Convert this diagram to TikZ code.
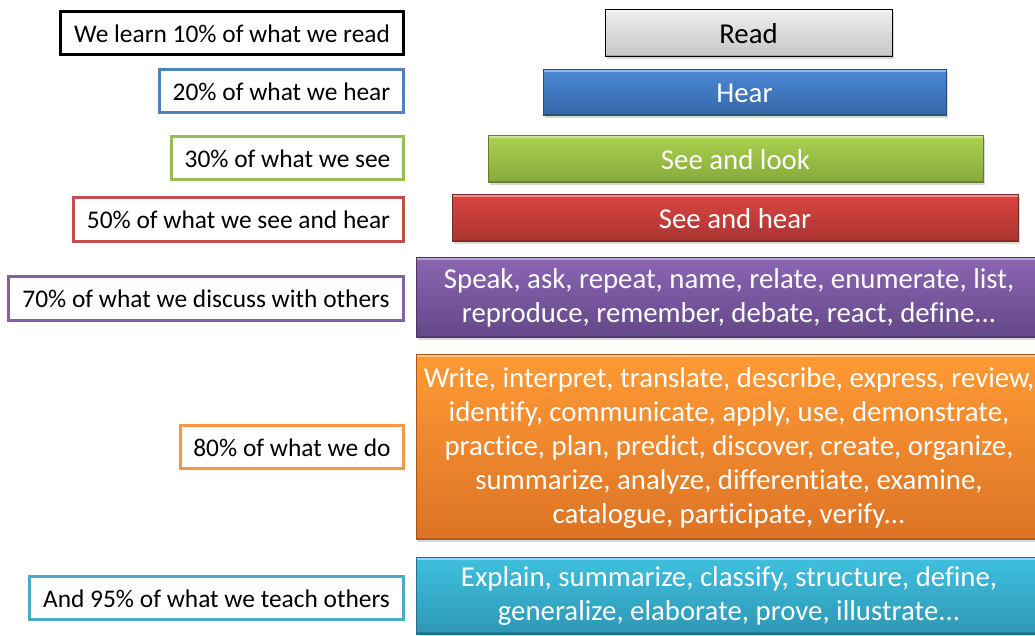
\documentclass[tikz,border=0pt]{standalone}
\usepackage{fontspec}
\setmainfont{Carlito}[Ligatures=NoCommon]
\usepackage{xcolor}
\definecolor{lrnBlue}{HTML}{4F81BD}
\definecolor{lrnGreen}{HTML}{9BBB59}
\definecolor{lrnRed}{HTML}{C0504D}
\definecolor{lrnPurple}{HTML}{8064A2}
\definecolor{lrnOrange}{HTML}{F79646}
\definecolor{lrnCyan}{HTML}{4BACC6}
% bar shades, top and bottom
\definecolor{readTop}{HTML}{EEEEEE}
\definecolor{readBot}{HTML}{C6C6C6}
\definecolor{hearTop}{HTML}{4B88D6}
\definecolor{hearBot}{HTML}{3566A6}
\definecolor{lookTop}{HTML}{A9D14E}
\definecolor{lookBot}{HTML}{86A83C}
\definecolor{bothTop}{HTML}{DA4440}
\definecolor{bothBot}{HTML}{A83432}
\definecolor{talkTop}{HTML}{8C66B4}
\definecolor{talkBot}{HTML}{634787}
\definecolor{doTop}{HTML}{FF9A35}
\definecolor{doBot}{HTML}{DC7325}
\definecolor{teachTop}{HTML}{3FC0DE}
\definecolor{teachBot}{HTML}{2D97B5}
\usetikzlibrary{shadows}

\tikzset{
  lbl/.style={draw=#1, line width=1.5pt, fill=white, inner sep=0pt,
    minimum height=21.5pt, anchor=east, font=\fontsize{12.7}{14}\selectfont},
  bar/.style={top color=#1Top, bottom color=#1Bot, draw=#1Bot!75!black,
    line width=0.5pt, inner sep=0pt, text=white, align=center,
    font=\fontsize{14.4}{17}\selectfont,
    drop shadow={opacity=0.3, shadow xshift=1pt, shadow yshift=-1.2pt},
    path picture={
      \draw[white, opacity=0.4, line width=2pt]
        (path picture bounding box.north west) -- (path picture bounding box.north east);
      \draw[black, opacity=0.18, line width=2pt]
        (path picture bounding box.south west) -- (path picture bounding box.south east);
    }},
}

\begin{document}
\begin{tikzpicture}[x=0.5pt, y=-0.5pt]
  \useasboundingbox (0,0) rectangle (1035,636);
  \clip (0,0) rectangle (1035,636);
  % percentages on the left
  \node[lbl=black, minimum width=171.5pt] (lread) at (405,33.5) {We learn 10\% of what we read};
  \node[lbl=lrnBlue, minimum width=122pt] (lhear) at (405,91.5) {20\% of what we hear};
  \node[lbl=lrnGreen, minimum width=116pt] (lsee) at (405,158.5) {30\% of what we see};
  \node[lbl=lrnRed, minimum width=165pt, minimum height=22pt] (lseehear) at (405,220) {50\% of what we see and hear};
  \node[lbl=lrnPurple, minimum width=197.5pt, minimum height=22pt] (ldiscuss) at (405,299) {70\% of what we discuss with others};
  \node[lbl=lrnOrange, minimum width=111.5pt] (ldo) at (405,447.5) {80\% of what we do};
  \node[lbl=lrnCyan, minimum width=187pt] (lteach) at (405,598.5) {And 95\% of what we teach others};
  % the stepped bars on the right
  \node[bar=read, draw=black, text=black, minimum width=143.5pt, minimum height=23.5pt]
    (bread) at (748.5,33.5) {Read};
  \node[bar=hear, minimum width=201.5pt, minimum height=23pt]
    (bhear) at (744.5,93) {Hear};
  \node[bar=look, minimum width=247.5pt, minimum height=23.5pt]
    (blook) at (735.5,159.5) {See and look};
  \node[bar=both, minimum width=283pt, minimum height=23.5pt]
    (bseehear) at (735,218.5) {See and hear};
  \node[bar=talk, minimum width=313pt, minimum height=40pt]
    (bdiscuss) at (729,298)
    {Speak, ask, repeat, name, relate, enumerate, list,\\
     reproduce, remember, debate, react, define...};
  \node[bar=do, minimum width=313pt, minimum height=92.5pt]
    (bdo) at (729,447.5)
    {Write, interpret, translate, describe, express, review,\\
     identify, communicate, apply, use, demonstrate,\\
     practice, plan, predict, discover, create, organize,\\
     summarize, analyze, differentiate, examine,\\
     catalogue, participate, verify...};
  \node[bar=teach, minimum width=313pt, minimum height=38pt]
    (bteach) at (729,596)
    {Explain, summarize, classify, structure, define,\\
     generalize, elaborate, prove, illustrate...};
\end{tikzpicture}
\end{document}
